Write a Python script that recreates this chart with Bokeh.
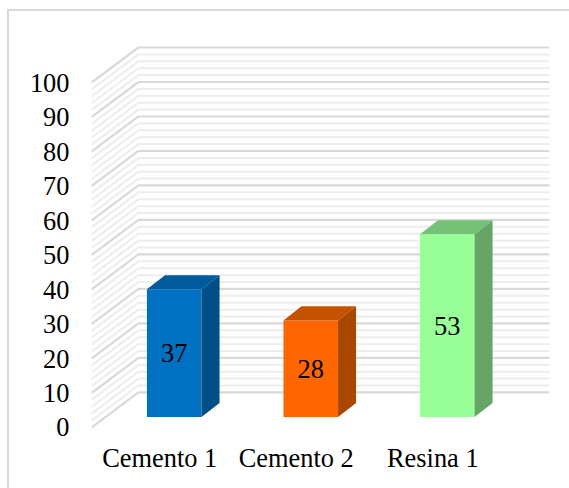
from bokeh.embed import file_html
from bokeh.resources import INLINE
from bokeh.plotting import figure
from bokeh.models import FixedTicker, InlineStyleSheet

categories = ["Cemento 1", "Cemento 2", "Resina 1"]
values = [37, 28, 53]
tick_values = list(range(0, 101, 10))
minor_values = [v for v in range(0, 101, 2) if v % 10]

front_colors = ["#0070C0", "#FF6600", "#99FF99"]
top_colors = ["#005A9B", "#C55200", "#75C175"]
side_colors = ["#004F87", "#A94600", "#66A566"]

# Oblique projection: how far a point moves when it goes back in the chart
WALL_DX = 0.344
WALL_DY = 10.17
BAR_WIDTH = 0.40
BAR_SHIFT_X = 0.106
BAR_BASE = 3.05
BAR_DX = 0.132
BAR_DY = 4.07

X_START = -0.5
X_WALL_END = 2.511

# Chart area border, running off the page on the right and at the bottom
chart_border = InlineStyleSheet(css="""
:host::after {
  content: "";
  position: absolute;
  left: 7px; top: 9px; right: 0; bottom: 0;
  border-style: solid;
  border-color: #D9D9D9;
  border-width: 2px 0 0 2px;
  pointer-events: none;
}
""")

p = figure(
    width=569, height=488, output_backend="svg", toolbar_location=None,
    x_range=(X_START, X_WALL_END + WALL_DX), y_range=(-0.87, 112.2),
    min_border_left=91, min_border_right=20, min_border_top=40, min_border_bottom=58,
    background_fill_color="white", border_fill_color="white",
    stylesheets=[chart_border],
)
p.outline_line_color = None
p.grid.visible = False

for axis in (p.xaxis[0], p.yaxis[0]):
    axis.axis_line_color = None
    axis.major_tick_line_color = None
    axis.minor_tick_line_color = None
    axis.major_label_text_font = "Liberation Serif"
    axis.major_label_text_font_size = "26.4px"
    axis.major_label_text_color = "#000000"

p.yaxis[0].ticker = FixedTicker(ticks=tick_values)
p.yaxis[0].major_label_standoff = 16
p.xaxis[0].ticker = FixedTicker(ticks=list(range(len(categories))))
p.xaxis[0].major_label_overrides = {i: c for i, c in enumerate(categories)}
p.xaxis[0].major_label_standoff = 6


def wall_lines(levels):
    xs = [[X_START, X_START + WALL_DX, X_WALL_END + WALL_DX] for _ in levels]
    ys = [[v, v + WALL_DY, v + WALL_DY] for v in levels]
    return xs, ys


xs, ys = wall_lines(minor_values)
p.multi_line(xs, ys, line_color="#EDEDED", line_width=2)
xs, ys = wall_lines(tick_values)
p.multi_line(xs, ys, line_color="#D9D9D9", line_width=2.2)

centers = [i + BAR_SHIFT_X for i in range(len(values))]
lefts = [c - BAR_WIDTH / 2 for c in centers]
rights = [c + BAR_WIDTH / 2 for c in centers]
tops = [BAR_BASE + v for v in values]

p.patches(
    [[l, r, r, l] for l, r in zip(lefts, rights)],
    [[BAR_BASE, BAR_BASE, t, t] for t in tops],
    fill_color=front_colors, line_color=None,
)
p.patches(
    [[l, r, r + BAR_DX, l + BAR_DX] for l, r in zip(lefts, rights)],
    [[t, t, t + BAR_DY, t + BAR_DY] for t in tops],
    fill_color=top_colors, line_color=None,
)
p.patches(
    [[r, r + BAR_DX, r + BAR_DX, r] for r in rights],
    [[BAR_BASE, BAR_BASE + BAR_DY, t + BAR_DY, t] for t in tops],
    fill_color=side_colors, line_color=None,
)

p.text(
    centers, [BAR_BASE + v / 2 for v in values], text=[str(v) for v in values],
    text_align="center", text_baseline="middle",
    text_font={"value": "Liberation Serif"}, text_font_size={"value": "26.4px"}, text_color="#000000",
)

open("out.html", "w").write(file_html(p, INLINE))
